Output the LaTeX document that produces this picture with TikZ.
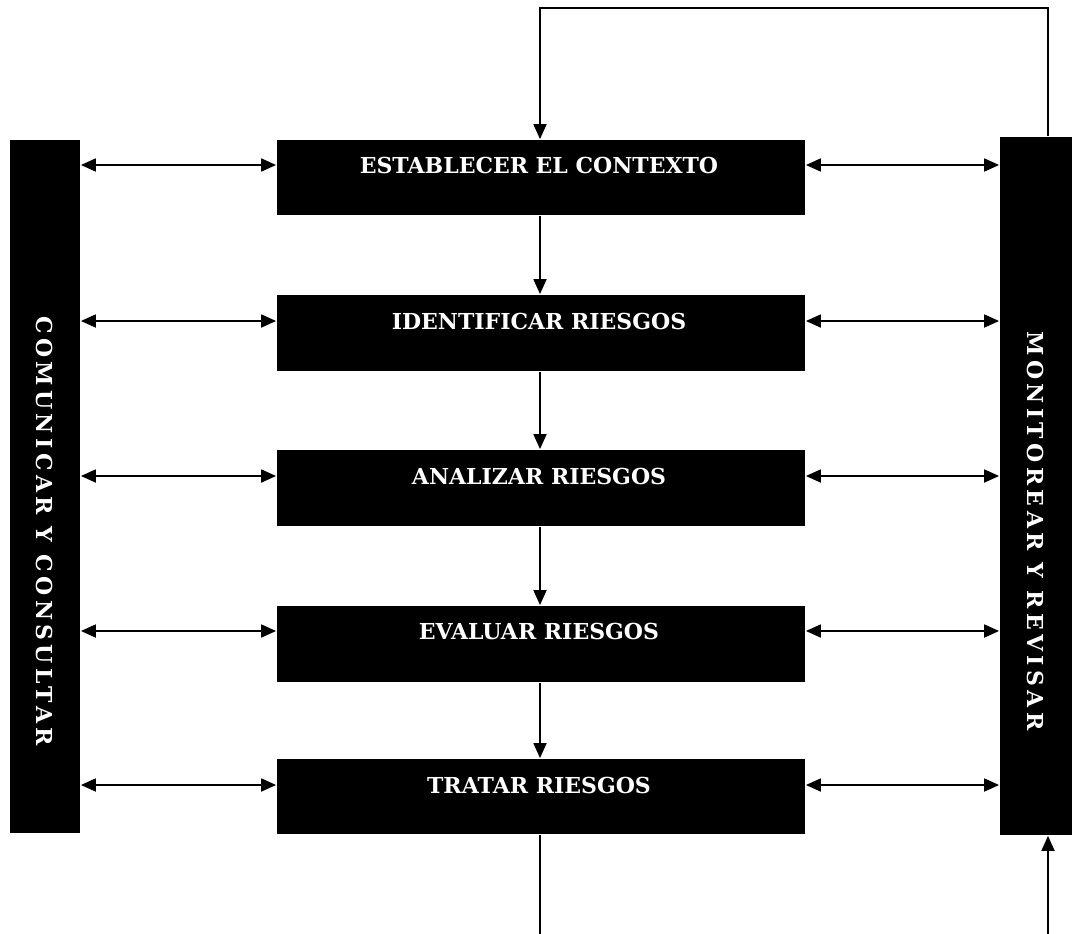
\documentclass[tikz,border=0pt]{standalone}
\usepackage{fontspec}
\setmainfont{DejaVu Serif}
\newfontfamily\sidefont[LetterSpace=20]{DejaVu Serif}
\usetikzlibrary{arrows.meta}
\begin{document}
\begin{tikzpicture}[x=1pt,y=-1pt,
  line width=1.8pt,
  tip/.style={-{Triangle[length=15pt,width=13pt]}},
  both/.style={{Triangle[length=15pt,width=13pt]}-{Triangle[length=15pt,width=13pt]}},
  stage/.style={fill=black,draw=none,minimum width=528pt,inner sep=0pt},
  bar/.style={fill=black,draw=none,inner sep=0pt},
  stagetext/.style={text=white,font=\fontsize{22}{24}\selectfont\bfseries},
  bartext/.style={text=white,rotate=-90,font=\sidefont\fontsize{22}{24}\selectfont\bfseries}]
\useasboundingbox (0,0) rectangle (1072,934);

% side bars
\node[bar,minimum width=70pt,minimum height=693pt] (lb) at (45,486.5) {};
\node[bar,minimum width=72pt,minimum height=698pt] (rb) at (1036,486) {};
\node[bartext] (lbt) at (45,531) {COMUNICAR Y CONSULTAR};
\node[bartext] (rbt) at (1036,531) {MONITOREAR Y REVISAR};

% process stages
\node[stage,minimum height=75pt] (b1) at (541,177.5) {};
\node[stage,minimum height=76pt] (b2) at (541,333) {};
\node[stage,minimum height=76pt] (b3) at (541,488) {};
\node[stage,minimum height=76pt] (b4) at (541,644) {};
\node[stage,minimum height=75pt] (b5) at (541,796.5) {};

\node[stagetext] (t1) at (539,165) {ESTABLECER EL CONTEXTO};
\node[stagetext] (t2) at (539,321) {IDENTIFICAR RIESGOS};
\node[stagetext] (t3) at (539,476) {ANALIZAR RIESGOS};
\node[stagetext] (t4) at (539,631) {EVALUAR RIESGOS};
\node[stagetext] (t5) at (539,785) {TRATAR RIESGOS};

% links to the side bars
\foreach \i in {1,...,5}{
  \draw[both] (lb.east |- t\i) -- (b\i.west |- t\i);
  \draw[both] (b\i.east |- t\i) -- (rb.west |- t\i);
}

% flow between stages
\draw[tip] (b1.south -| 540,0) -- (b2.north -| 540,0);
\draw[tip] (b2.south -| 540,0) -- (b3.north -| 540,0);
\draw[tip] (b3.south -| 540,0) -- (b4.north -| 540,0);
\draw[tip] (b4.south -| 540,0) -- (b5.north -| 540,0);

% feedback loop over the top
\coordinate (ftop) at (1048,8);
\draw[tip] (rb.north -| ftop) -- (ftop) -| (b1.north -| 540,0);

% open ends at the bottom
\coordinate (outa) at (540,934);
\coordinate (inb) at (1048,934);
\draw (b5.south -| outa) -- (outa);
\draw[tip] (inb) -- (rb.south -| inb);
\end{tikzpicture}
\end{document}
